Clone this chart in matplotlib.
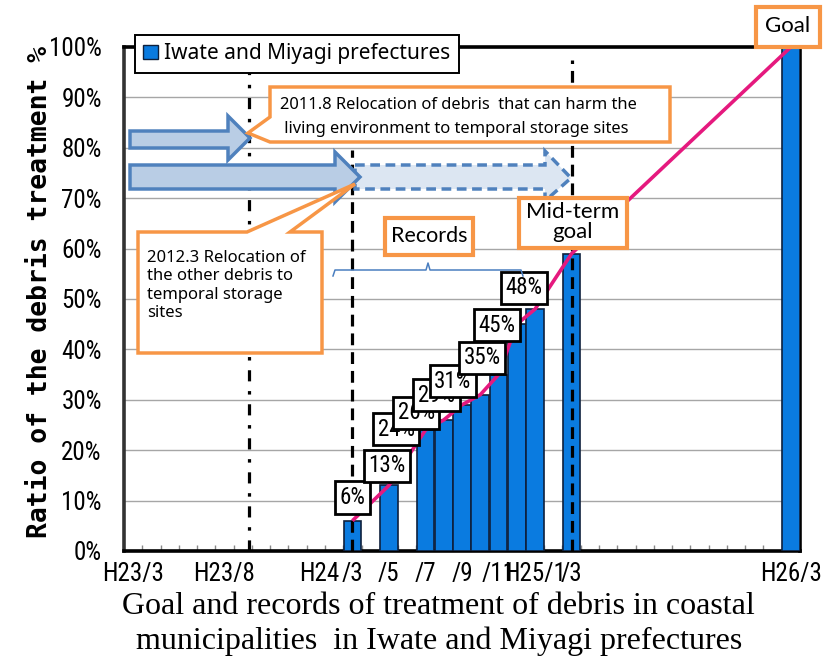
import matplotlib
matplotlib.use("Agg")
import matplotlib.pyplot as plt
from matplotlib.patches import Polygon, Patch
from matplotlib import font_manager as fm
import numpy as np

plt.rcParams["lines.scale_dashes"] = False

# ---------------- data ----------------
# month index: 0 = H23/3 (Mar 2011) ... 36 = H26/3 (Mar 2014)
record_month = [12, 14, 16, 17, 18, 19, 20, 21, 22]
record_values = [6, 13, 24, 26, 29, 31, 35, 45, 48]
goal_month = [24, 36]
goal_values = [59, 100]
goal_names = ["Mid-term\ngoal", "Goal"]
series_name = "Iwate and Miyagi prefectures"
tick_pos = [0, 5, 10.2, 12, 14, 16, 18, 20, 22, 24, 36]
tick_labels = ["H23/3", "H23/8", "H24", "/3", "/5", "/7", "/9", "/11", "H25/1", "/3", "H26/3"]
y_ticks = list(range(0, 101, 10))
# label box offsets (months, %) relative to each record bar top
label_dx = [0.0, -0.1, -1.6, -1.5, -1.4, -1.5, -0.9, -1.1, -0.6]
label_dy = [4.6, 3.9, 0.2, 1.4, 1.9, 2.7, 3.3, -0.2, 4.2]

# ---- choose a narrow sans font if one is installed ----
ttf = fm.fontManager.ttflist
narrow_file = None
for pref in ["Liberation Sans Narrow", "Roboto Condensed", "Open Sans Condensed",
             "Noto Sans Condensed", "DejaVu Sans Condensed", "Arial Narrow"]:
    hits = [f for f in ttf if f.name == pref and f.style == "normal"
            and f.weight in (400, "normal", "regular", "book")]
    if hits:
        narrow_file = hits[0].fname
        break
if narrow_file is None:
    hits = [f for f in ttf if str(f.stretch) in ("condensed", "semi-condensed")
            and f.style == "normal" and f.weight in (400, "normal", "regular", "book")
            and "Mono" not in f.name and "Serif" not in f.name]
    if hits:
        narrow_file = hits[0].fname


def NP(size):
    if narrow_file:
        return fm.FontProperties(fname=narrow_file, size=size)
    return fm.FontProperties(family="Liberation Sans", size=size * 0.85)


W, H = 828, 662
fig = plt.figure(figsize=(W / 100, H / 100), dpi=100)
ax = fig.add_axes([124 / W, 1 - 551 / H, (800 - 124) / W, (551 - 47) / H])

BLUE = "#0A7BE0"
EDGE = "#0E203D"
ORANGE = "#F79646"
ABLUE = "#4F81BD"

all_month = record_month + goal_month
all_values = record_values + goal_values

ax.bar(all_month, all_values, width=0.97, color=BLUE, edgecolor=EDGE, linewidth=1.2, zorder=3)
ax.plot(all_month, all_values, color="#E5197E", lw=2.6, zorder=5, solid_capstyle="butt")

# event lines
ax.plot([6.36, 6.36], [0, 100], color="black", lw=2.3, dashes=[8, 7, 2.5, 7], zorder=4)
ax.plot([12, 12], [0, 79.6], color="black", lw=2.3, dashes=[8.5, 5], zorder=4)
ax.plot([24, 24], [0, 97.4], color="black", lw=2.3, dashes=[8.5, 5], zorder=4)

# value labels
for i, (m, v) in enumerate(zip(record_month, record_values)):
    ax.text(m + label_dx[i], v + label_dy[i], f"{v}%", ha="center", va="center",
            fontproperties=NP(16.5), zorder=10 + i,
            bbox=dict(boxstyle="square,pad=0.2", fc="white", ec="black", lw=2))

ax.set_xlim(-0.5, 36.5)
ax.set_ylim(0, 100)
ax.set_yticks(y_ticks)
ax.set_yticklabels([f"{v}%" for v in y_ticks])
for t in ax.get_yticklabels():
    t.set_fontproperties(NP(18))
ax.set_xticks(tick_pos)
ax.set_xticklabels(tick_labels)
for t in ax.get_xticklabels():
    t.set_fontproperties(NP(18))
ax.set_xticks(np.arange(0.5, 36, 1), minor=True)
ax.tick_params(axis="x", which="major", length=0, pad=8)
ax.tick_params(axis="x", which="minor", direction="in", length=4, color="#888888", width=1)
ax.tick_params(axis="y", length=0, pad=16)
ax.yaxis.grid(True, color="#A6A6A6", lw=1)
ax.set_axisbelow(True)
for s in ax.spines.values():
    s.set_linewidth(2.6)
    s.set_color("black")
ax.spines["left"].set_color("#333333")

leg = ax.legend(handles=[Patch(fc=BLUE, ec=EDGE, lw=1)], labels=[series_name],
                loc="upper left", bbox_to_anchor=(135 / W, 1 - 35 / H),
                bbox_transform=fig.transFigure, frameon=True, fancybox=False,
                edgecolor="black", framealpha=1, borderpad=0.4, handlelength=0.7,
                handleheight=0.7, handletextpad=0.3, borderaxespad=0,
                prop={"family": "Noto Sans", "size": 15})
leg.get_frame().set_linewidth(1.4)
leg.set_zorder(20)


def F(px, py):
    return (px / W, 1 - py / H)


def poly(pts, fc, ec, lw, ls="-", z=30):
    p = Polygon([F(*q) for q in pts], closed=True, transform=fig.transFigure,
                fc=fc, ec=ec, lw=lw, ls=ls, zorder=z, joinstyle="miter")
    fig.add_artist(p)
    return p

# arrows
poly([(355, 165), (545, 165), (545, 151), (571, 178), (545, 201), (545, 189), (355, 189)],
     "#DCE6F2", ABLUE, 2.5, ls=(0, (7, 4)), z=30)
poly([(130, 131), (228, 131), (228, 116), (250, 138), (228, 160), (228, 148), (130, 148)],
     "#B9CDE5", ABLUE, 2.5, z=31)
poly([(130, 165), (335, 165), (335, 152), (360, 177), (335, 202), (335, 189), (130, 189)],
     "#B9CDE5", ABLUE, 2.5, z=31)

# callouts
poly([(270, 87), (670, 87), (670, 142), (270, 142), (248, 133), (270, 117)],
     "white", ORANGE, 2.5, z=32)
fig.text(*F(280, 105), "2011.8 Relocation of debris  that can harm the", fontsize=11.9,
         family="Noto Sans", va="center", ha="left", zorder=33)
fig.text(*F(280, 129), " living environment to temporal storage sites", fontsize=11.9,
         family="Noto Sans", va="center", ha="left", zorder=33)

poly([(138, 232), (247, 232), (355, 184), (290, 232), (322, 232), (322, 353), (138, 353)],
     "white", ORANGE, 2.5, z=32)
fig.text(*F(147, 250), "2012.3 Relocation of\nthe other debris to\ntemporal storage\nsites",
         fontsize=12, family="Noto Sans", va="top", ha="left", linespacing=1.2, zorder=33)

# records bracket and box
bx = [F(333, 276), F(335, 270), F(426, 270), F(428, 263), F(430, 270), F(521, 270), F(523, 276)]
fig.add_artist(plt.Line2D([p[0] for p in bx], [p[1] for p in bx], transform=fig.transFigure,
                          color="#4A7EC0", lw=1.1, zorder=32))
poly([(385, 218), (473, 218), (473, 255), (385, 255)], "white", ORANGE, 3, z=32)
fig.text(*F(429, 236), "Records", fontsize=15.5, family="Lato", ha="center", va="center", zorder=33)

# goal boxes
poly([(519, 198), (627, 198), (627, 248), (519, 248)], "white", ORANGE, 3, z=32)
fig.text(*F(573, 222), goal_names[0], fontsize=16, family="Lato", ha="center", va="center",
         linespacing=0.95, zorder=33)
poly([(756, 7), (820, 7), (820, 47), (756, 47)], "white", ORANGE, 3, z=32)
fig.text(*F(788, 26), goal_names[1], fontsize=16, family="Lato", ha="center", va="center",
         zorder=33)

# axis title & caption
fig.text(*F(40, 292), "Ratio of the debris treatment %", rotation=90, ha="center", va="center",
         family="DejaVu Sans Mono", fontweight="bold", fontsize=19)
fig.text(*F(438, 606), "Goal and records of treatment of debris in coastal",
         family="Liberation Serif", fontsize=23, ha="center", va="center")
fig.text(*F(439, 641), "municipalities  in Iwate and Miyagi prefectures",
         family="Liberation Serif", fontsize=23, ha="center", va="center")

fig.savefig("out.png", dpi=100)
